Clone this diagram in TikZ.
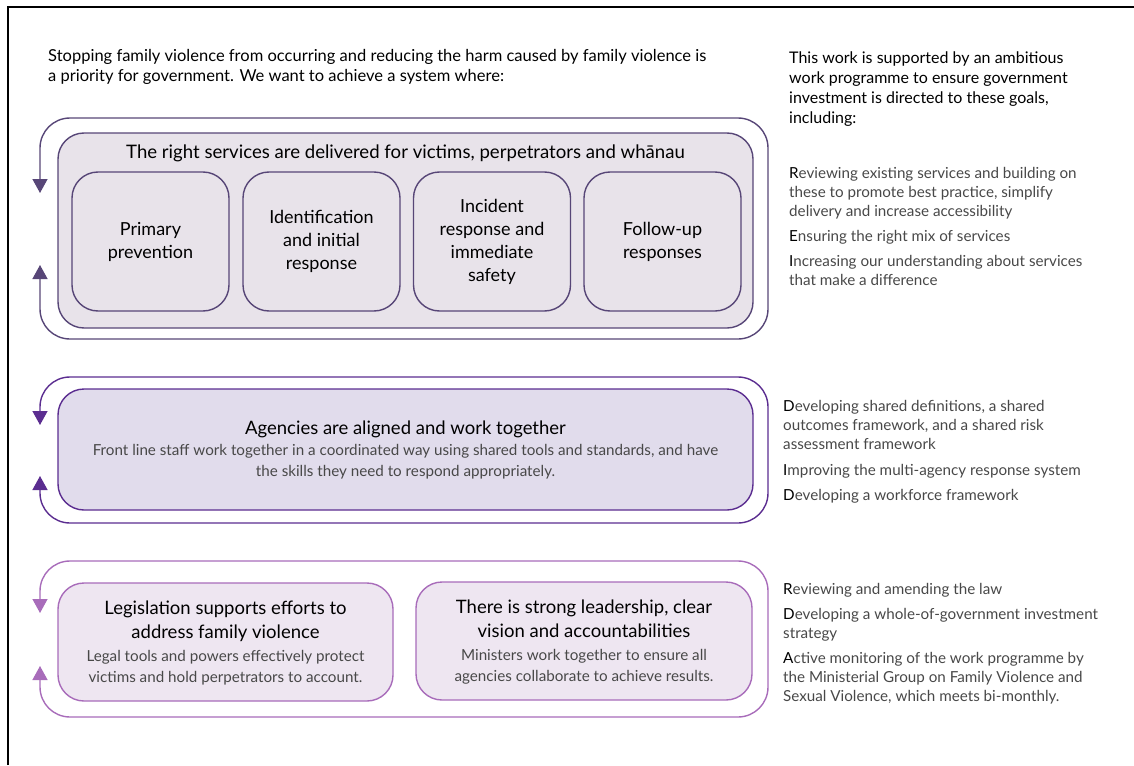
\documentclass[tikz,border=0pt]{standalone}
\usepackage{fontspec}
\setmainfont{Lato}
\usetikzlibrary{arrows.meta}
\definecolor{pA}{HTML}{574677}
\definecolor{fA}{HTML}{E8E3EA}
\definecolor{pB}{HTML}{5B2D90}
\definecolor{fB}{HTML}{E1DCEC}
\definecolor{pC}{HTML}{A86CBA}
\definecolor{fC}{HTML}{EEE6F1}
\definecolor{gtext}{HTML}{484848}
\begin{document}
\begin{tikzpicture}[x=1pt,y=-1pt,
  loopline/.style={line width=1.4pt, rounded corners=30pt,
    {Triangle[width=15pt,length=14pt]}-{Triangle[width=15pt,length=14pt]}},
  panel/.style={draw, line width=1.4pt, rounded corners=26pt, inner sep=0pt},
  stage/.style={draw=pA, line width=1.4pt, rounded corners=26pt, minimum width=157pt, minimum height=139pt,
    align=center, inner sep=0pt, font=\fontsize{18}{23}\selectfont},
  headtxt/.style={inner sep=0pt, align=center, font=\fontsize{18.5}{24}\selectfont},
  subtxt/.style={inner sep=0pt, align=center, text=gtext, font=\fontsize{15.2}{21}\selectfont},
  introtxt/.style={inner sep=0pt, anchor=base west, align=left},
  item/.style={inner sep=0pt, anchor=base west, align=left, text=gtext, font=\fontsize{15.2}{19}\selectfont},
]
\useasboundingbox (0,0) rectangle (1134,765);
\draw[line width=1.2pt] (8,765) -- (8,7) -- (1134,7);

% intro texts (anchor base = baseline of last line)
\node[introtxt, font=\fontsize{16.5}{20}\selectfont] (intro) at (48,82)
  {Stopping family violence from occurring and reducing the harm caused by family violence is\\
   a priority for government. We want to achieve a system where:};
\node[introtxt, font=\fontsize{16}{20.3}\selectfont] (support) at (789,124)
  {This work is supported by an ambitious\\ work programme to ensure government\\
   investment is directed to these goals,\\ including:};

% ---------- group 1
\coordinate (l1a) at (40,265);
\coordinate (l1b) at (40,193);
\draw[loopline, draw=pA, color=pA] (l1a) |- (768,339) |- (40,118) -- (l1b);
\node[panel, draw=pA, fill=fA, minimum width=695pt, minimum height=195pt] (g1) at (405.5,230.5) {};
\node[inner sep=0pt, anchor=base, font=\fontsize{18.6}{22}\selectfont] (g1t) at (405.5,158)
  {The right services are delivered for victims, perpetrators and wh\=anau};
\node[stage] (s1) at (150.5,241.5) {Primary\\ prevention};
\node[stage] (s2) at (321.5,241.5) {Identification\\ and initial\\ response};
\node[stage] (s3) at (492,241.5) {Incident\\ response and\\ immediate\\ safety};
\node[stage] (s4) at (662.5,241.5) {Follow-up\\ responses};

% ---------- group 2
\coordinate (l2a) at (40,476);
\coordinate (l2b) at (40,425);
\draw[loopline, draw=pB, color=pB] (l2a) |- (768,523) |- (40,377) -- (l2b);
\node[panel, draw=pB, fill=fB, minimum width=695pt, minimum height=121pt] (g2) at (405.5,449.5) {};
\node[headtxt, anchor=base] (g2t) at (405.5,434) {Agencies are aligned and work together};
\node[subtxt, anchor=base] (g2s) at (405.5,476)
  {Front line staff work together in a coordinated way using shared tools and standards, and have\\
   the skills they need to respond appropriately.};

% ---------- group 3
\coordinate (l3a) at (40,666);
\coordinate (l3b) at (40,613);
\draw[loopline, draw=pC, color=pC] (l3a) |- (768,717) |- (40,561) -- (l3b);
\node[panel, draw=pC, fill=fC, minimum width=335pt, minimum height=118pt] (g3a) at (225.5,642) {};
\node[panel, draw=pC, fill=fC, minimum width=336pt, minimum height=118pt] (g3b) at (584,641) {};
\node[headtxt, anchor=base] (g3at) at (225.5,638) {Legislation supports efforts to\\ address family violence};
\node[subtxt, anchor=base] (g3as) at (225.5,682) {Legal tools and powers effectively protect\\ victims and hold perpetrators to account.};
\node[headtxt, anchor=base] (g3bt) at (584,637) {There is strong leadership, clear\\ vision and accountabilities};
\node[subtxt, anchor=base] (g3bs) at (584,681) {Ministers work together to ensure all\\ agencies collaborate to achieve results.};

% ---------- right column items
\node[item] (r1) at (789,216) {\textcolor{black}{R}eviewing existing services and building on\\ these to promote best practice, simplify\\ delivery and increase accessibility};
\node[item] (r2) at (789,241) {\textcolor{black}{E}nsuring the right mix of services};
\node[item] (r3) at (789,285) {\textcolor{black}{I}ncreasing our understanding about services\\ that make a difference};

\node[item] (r4) at (783,449) {\textcolor{black}{D}eveloping shared definitions, a shared\\ outcomes framework, and a shared risk\\ assessment framework};
\node[item] (r5) at (783,475) {\textcolor{black}{I}mproving the multi-agency response system};
\node[item] (r6) at (783,500) {\textcolor{black}{D}eveloping a workforce framework};

\node[item] (r7) at (783,594) {\textcolor{black}{R}eviewing and amending the law};
\node[item] (r8) at (783,638) {\textcolor{black}{D}eveloping a whole-of-government investment\\ strategy};
\node[item] (r9) at (783,701) {\textcolor{black}{A}ctive monitoring of the work programme by\\ the Ministerial Group on Family Violence and\\ Sexual Violence, which meets bi-monthly.};
\end{tikzpicture}
\end{document}
